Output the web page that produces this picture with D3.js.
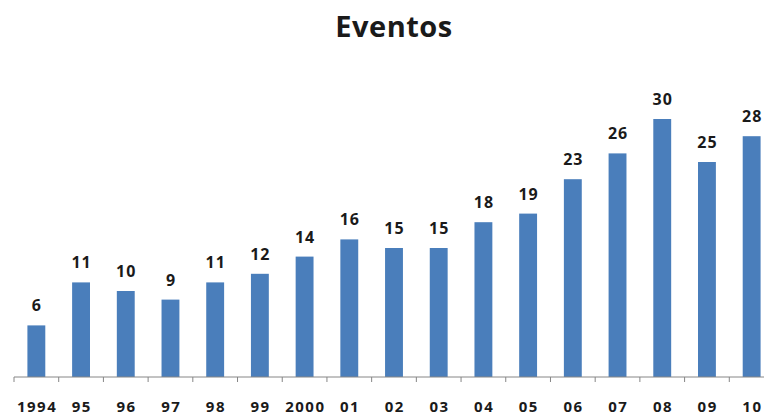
<!DOCTYPE html>
<html>
<head>
<meta charset="utf-8">
<script src="https://cdn.jsdelivr.net/npm/d3@7"></script>
<style>
  body { margin: 0; background: #fff; }
  text { font-family: "Open Sans", Lato, sans-serif; font-weight: bold; fill: #1a1a1a; }
</style>
</head>
<body>
<div id="chart"></div>
<script>
// Eventos per year
const years = ['1994', '95', '96', '97', '98', '99', '2000', '01', '02', '03', '04', '05', '06', '07', '08', '09', '10'];
const eventos = [6, 11, 10, 9, 11, 12, 14, 16, 15, 15, 18, 19, 23, 26, 30, 25, 28];

const width = 764;
const height = 417;

const svg = d3.select('#chart').append('svg')
    .attr('width', width)
    .attr('height', height);

const x = d3.scaleBand()
    .domain(years)
    .range([14, 774])
    .paddingInner(0.6)
    .paddingOuter(0.3);

const y = d3.scaleLinear()
    .domain([0, 30])
    .range([377, 119]);

// title
svg.append('text')
    .attr('x', 394)
    .attr('y', 37)
    .attr('text-anchor', 'middle')
    .style('font-size', '29px')
    .style('letter-spacing', '0.5px')
    .text('Eventos');

// bars
svg.selectAll('.bar')
    .data(eventos)
    .enter().append('rect')
    .attr('class', 'bar')
    .attr('x', (d, i) => x(years[i]))
    .attr('y', d => y(d))
    .attr('width', x.bandwidth())
    .attr('height', d => y(0) - y(d))
    .style('fill', '#4a7ebb');

// value labels
svg.selectAll('.label')
    .data(eventos)
    .enter().append('text')
    .attr('class', 'label')
    .attr('x', (d, i) => x(years[i]) + x.bandwidth() / 2 + 0.5)
    .attr('y', d => y(d) - 14)
    .attr('text-anchor', 'middle')
    .style('font-size', '16px')
    .style('letter-spacing', '1px')
    .text(d => d);

// axis line + ticks between categories
const x0 = 14;
svg.append('line')
    .attr('x1', x0).attr('x2', width)
    .attr('y1', y(0)).attr('y2', y(0))
    .style('stroke', '#868686');

svg.selectAll('.tick')
    .data(d3.range(years.length + 1))
    .enter().append('line')
    .attr('class', 'tick')
    .attr('x1', i => x0 + i * (774 - 14) / years.length)
    .attr('x2', i => x0 + i * (774 - 14) / years.length)
    .attr('y1', y(0)).attr('y2', y(0) + 5)
    .style('stroke', '#868686');

// year labels
svg.selectAll('.year')
    .data(years)
    .enter().append('text')
    .attr('class', 'year')
    .attr('x', d => x(d) + x.bandwidth() / 2 + 0.75)
    .attr('y', 412)
    .attr('text-anchor', 'middle')
    .style('font-size', '15px')
    .style('letter-spacing', '1.5px')
    .text(d => d);
</script>
</body>
</html>
